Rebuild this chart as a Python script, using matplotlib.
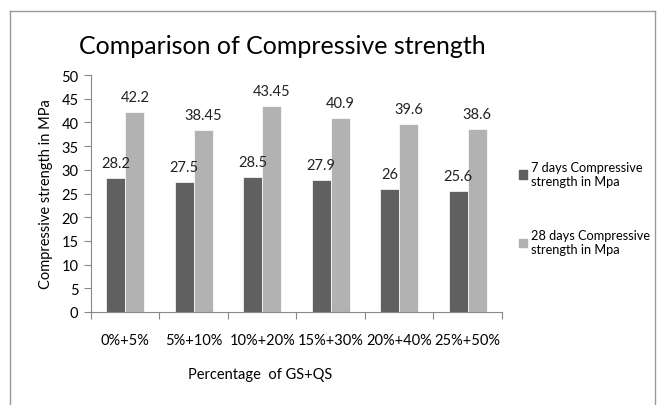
import matplotlib
matplotlib.use("Agg")
import matplotlib.pyplot as plt
import numpy as np
from matplotlib.lines import Line2D

categories = ["0%+5%", "5%+10%", "10%+20%", "15%+30%", "20%+40%", "25%+50%"]
days7 = [28.2, 27.5, 28.5, 27.9, 26, 25.6]
days28 = [42.2, 38.45, 43.45, 40.9, 39.6, 38.6]
labels7 = ["28.2", "27.5", "28.5", "27.9", "26", "25.6"]
labels28 = ["42.2", "38.45", "43.45", "40.9", "39.6", "38.6"]
series_names = ["7 days Compressive\nstrength in Mpa", "28 days Compressive\nstrength in Mpa"]

plt.rcParams['font.family'] = ['Lato', 'DejaVu Sans']

fig = plt.figure(figsize=(6.67, 4.06), dpi=100)
ax = fig.add_axes([91/667, 1-313/406, (502-91)/667, (313-76)/406])

x = np.arange(len(categories))
w = 0.28
dark = "#606060"
light = "#b2b2b2"
ax.bar(x - w/2, days7, w, color=dark, edgecolor="white", linewidth=0.5)
ax.bar(x + w/2, days28, w, color=light, edgecolor="white", linewidth=0.5)

for xi, v, s in zip(x, days7, labels7):
    ax.text(xi - w/2, v + 1.7, s, ha="center", va="bottom", fontsize=10.5, color="#222222")
for xi, v, s in zip(x, days28, labels28):
    ax.text(xi + w/2, v + 1.7, s, ha="center", va="bottom", fontsize=10.5, color="#222222")

ax.set_xlim(-0.5, len(categories) - 0.5)
ax.set_ylim(0, 50)
ax.set_yticks(range(0, 51, 5))
ax.set_xticks(np.arange(-0.5, len(categories), 1.0))
ax.set_xticklabels([])
ax.set_xticks(x, minor=True)
ax.set_xticklabels(categories, minor=True)
ax.tick_params(axis="x", which="minor", length=0, pad=15, labelsize=10.5)
ax.tick_params(axis="x", which="major", length=5, color="#888888", direction="out")
ax.tick_params(axis="y", length=5, color="#888888", labelsize=10.5, pad=4)

for sp in ["top", "right"]:
    ax.spines[sp].set_visible(False)
for sp in ["left", "bottom"]:
    ax.spines[sp].set_color("#888888")
    ax.spines[sp].set_linewidth(0.8)

ax.set_ylabel("Compressive strength in MPa", fontsize=10.5, labelpad=6)
fig.text(260/667, 1-375/406, "Percentage  of GS+QS", ha="center", va="center", fontsize=10.5)
fig.text(282/667, 1-47/406, "Comparison of Compressive strength", ha="center", va="center", fontsize=18)

# legend
handles = [plt.Rectangle((0, 0), 1, 1, color=dark), plt.Rectangle((0, 0), 1, 1, color=light)]
fig.legend(handles, series_names, loc="upper left", bbox_to_anchor=(514/667, 1-157/406),
           frameon=False, fontsize=9.2, handlelength=0.65, handleheight=0.65,
           handletextpad=0.3, labelspacing=3.3, borderaxespad=0)

# outer frame
fc = "#999999"
fig.add_artist(Line2D([10/667, 10/667], [0, 1-12/406], color=fc, lw=1, transform=fig.transFigure))
fig.add_artist(Line2D([10/667, 655/667], [1-12/406, 1-12/406], color=fc, lw=1, transform=fig.transFigure))
fig.add_artist(Line2D([655/667, 655/667], [0, 1-12/406], color=fc, lw=1, transform=fig.transFigure))

fig.savefig("out.png", dpi=100)
